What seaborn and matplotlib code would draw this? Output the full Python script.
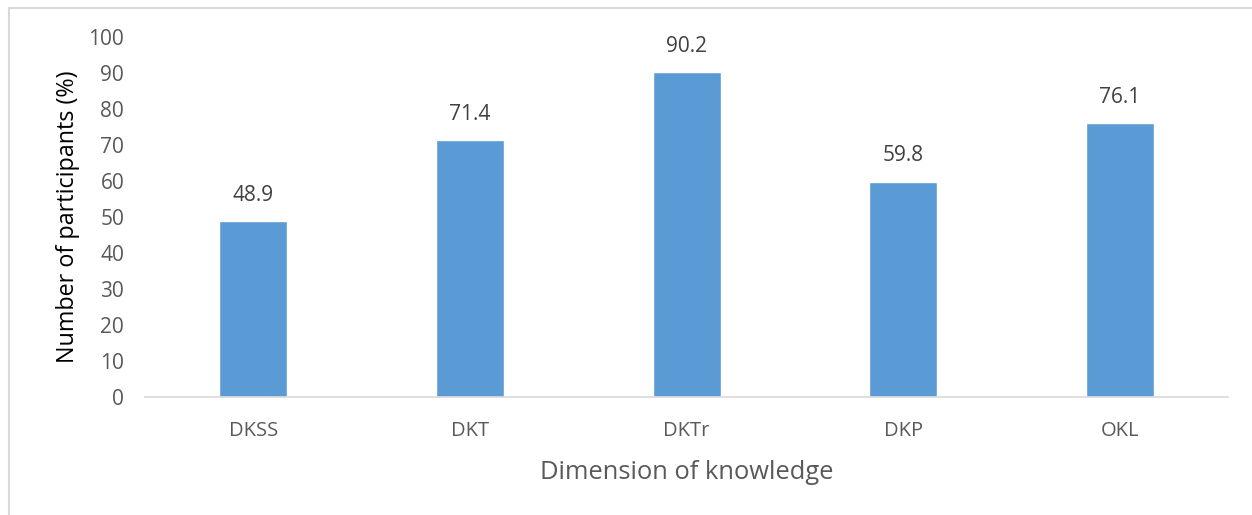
import matplotlib
matplotlib.use("Agg")
import matplotlib.pyplot as plt
import seaborn as sns
import pandas as pd
from matplotlib.patches import Rectangle

categories = ["DKSS", "DKT", "DKTr", "DKP", "OKL"]
values = [48.9, 71.4, 90.2, 59.8, 76.1]
y_ticks = [0, 10, 20, 30, 40, 50, 60, 70, 80, 90, 100]

sns.set_theme(style="white")
plt.rcParams["font.family"] = ["Open Sans", "DejaVu Sans"]

df = pd.DataFrame({"dimension": categories, "pct": values})

fig = plt.figure(figsize=(12.52, 5.15), dpi=100)
ax = fig.add_axes([0.1158, 0.229, 0.8652, 0.699])

sns.barplot(data=df, x="dimension", y="pct", color="#5B9BD5", saturation=1,
            width=0.314, ax=ax)

for patch, v in zip(ax.patches, values):
    ax.text(patch.get_x() + patch.get_width() / 2, v + 4.3, f"{v:.1f}",
            ha="center", va="bottom", fontsize=15, color="#404040")

ax.set_ylim(0, 100)
ax.set_xlim(-0.5, len(categories) - 0.5)
ax.set_yticks(y_ticks)
ax.tick_params(axis="both", length=0, colors="#595959")
ax.tick_params(axis="x", pad=17, labelsize=14.5)
ax.tick_params(axis="y", pad=15, labelsize=15)

for side in ["top", "right", "left"]:
    ax.spines[side].set_visible(False)
ax.spines["bottom"].set_color("#D9D9D9")
ax.spines["bottom"].set_linewidth(1.2)

ax.set_ylabel("Number of participants (%)", fontsize=16.8, color="black", labelpad=6)
ax.set_xlabel("Dimension of knowledge", fontsize=18.4, color="#595959", labelpad=14)

# chart area border
fig.patches.append(Rectangle((9 / 1252, -0.1), 1.2, 1 - 8 / 515 + 0.1,
                             transform=fig.transFigure, fill=False,
                             edgecolor="#D9D9D9", linewidth=1.5))

fig.savefig("out.png", dpi=100, facecolor="white")
